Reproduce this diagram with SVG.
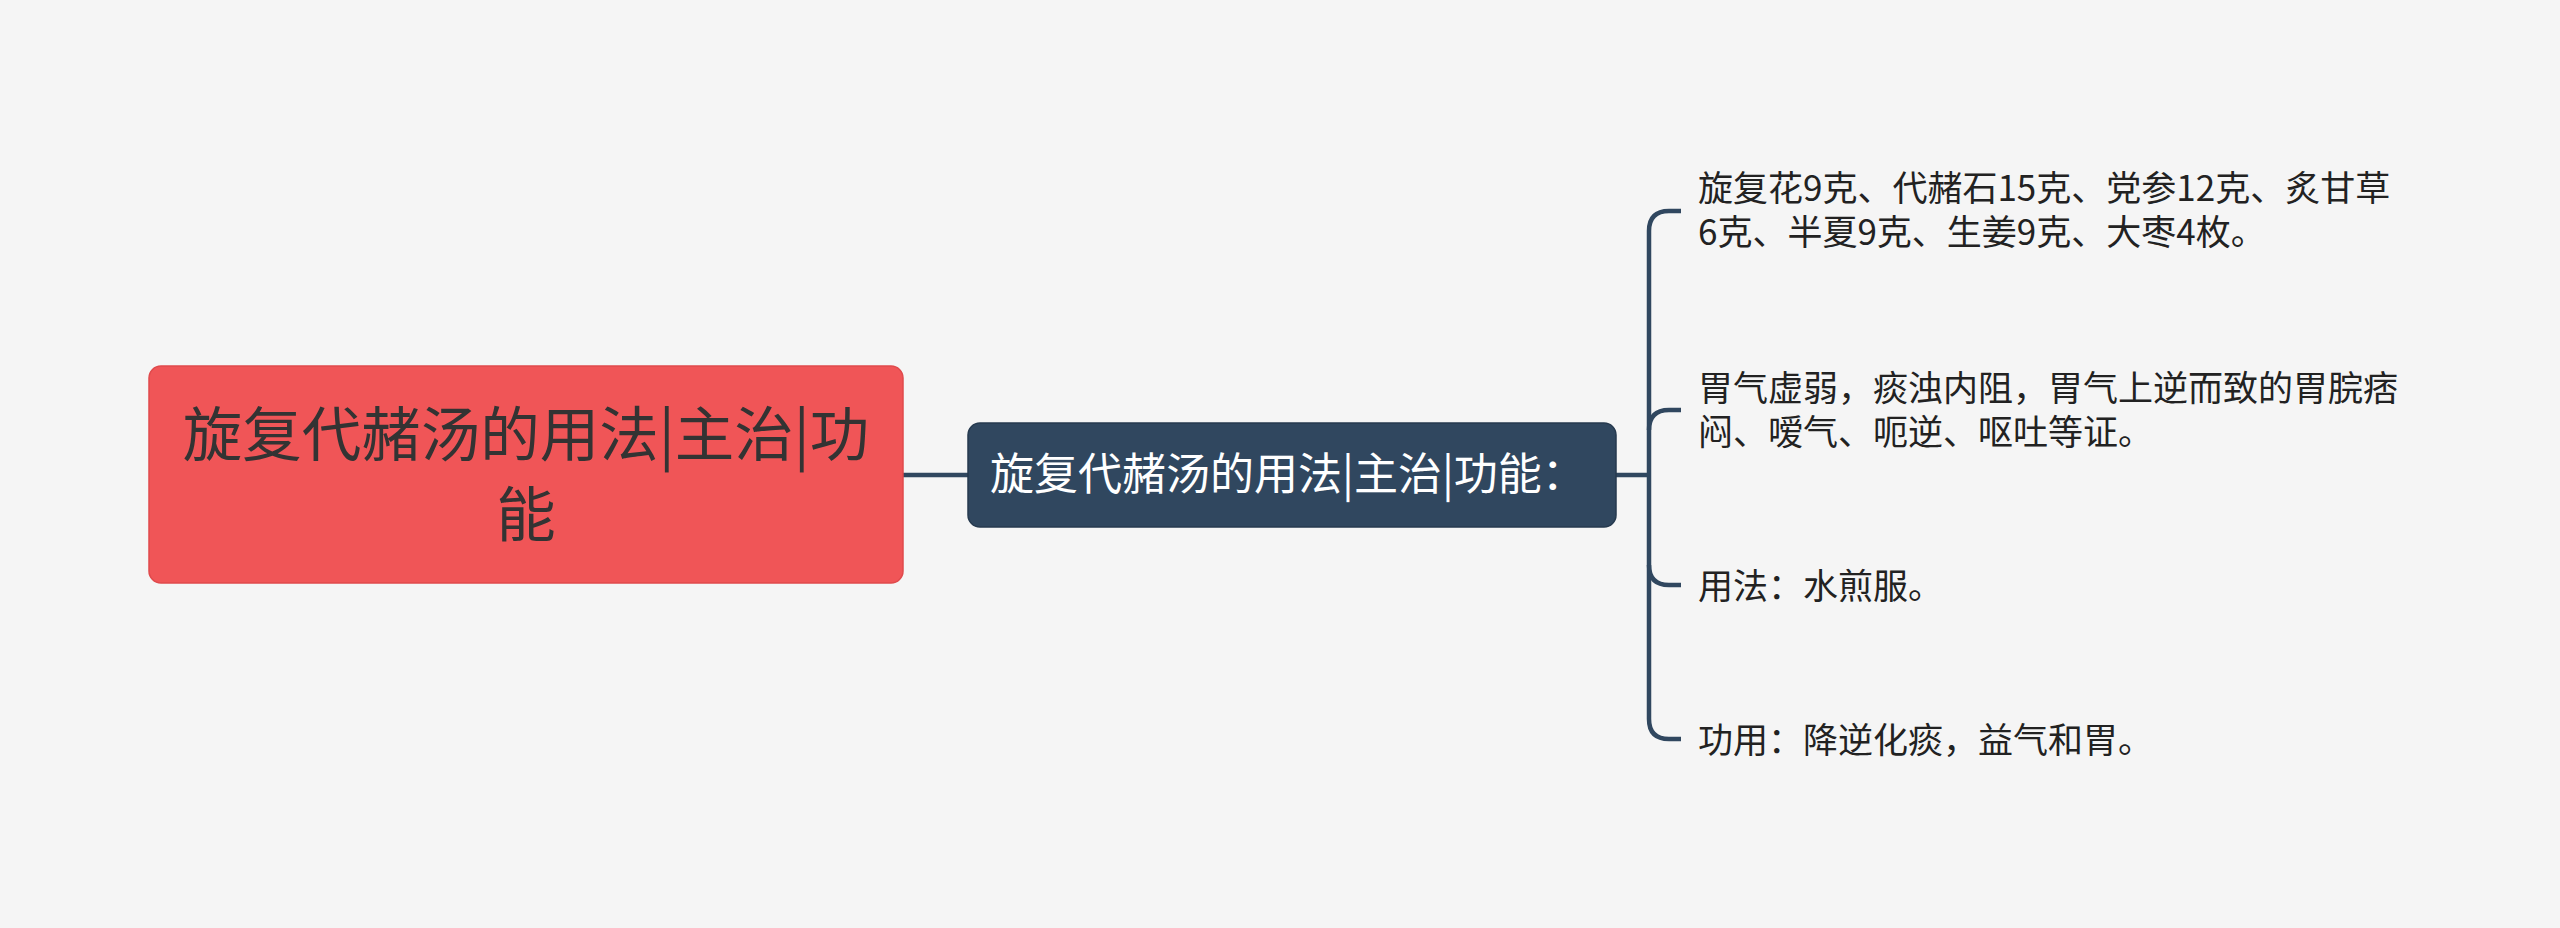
<svg xmlns="http://www.w3.org/2000/svg" width="2560" height="928" viewBox="0 0 2560 928">
<style>
.bg{fill:#f5f5f5}
.root rect{fill:#f05557;stroke:#e04a4c;stroke-width:1.5}
.root text{font-family:"Noto Sans CJK SC","Noto Sans",sans-serif;font-size:59.5px;fill:#333333;text-anchor:middle}
.mid rect{fill:#30475f;stroke:#263a4f;stroke-width:1.5}
.mid text{font-family:"Noto Sans CJK SC","Noto Sans",sans-serif;font-size:44px;fill:#ffffff}
.leaf text{font-family:"Noto Sans CJK SC","Noto Sans",sans-serif;font-size:35px;fill:#222222}
.conn path{fill:none;stroke:#30475f;stroke-width:4.5;stroke-linecap:butt}
</style>
<rect class="bg" x="0" y="0" width="2560" height="928"/>
<g id="connectors" class="conn">
<path d="M903,475 H968"/>
<path d="M1616,475 H1649"/>
<path d="M1681,211 H1669 Q1649,211 1649,231 V719 Q1649,739 1669,739 H1681"/>
<path d="M1681,410 H1669 Q1649,410 1649,430"/>
<path d="M1649,565 Q1649,585 1669,585 H1681"/>
</g>
<g id="root" class="root">
<rect x="149" y="366" width="754" height="217" rx="12"/>
<text x="526" y="456"><tspan x="526" y="456">旋复代赭汤的用法|主治|功</tspan><tspan x="526" y="536">能</tspan></text>
</g>
<g id="mid" class="mid">
<rect x="968" y="423" width="648" height="104" rx="12"/>
<text x="990" y="490">旋复代赭汤的用法|主治|功能：</text>
</g>
<g id="leaf1" class="leaf">
<text x="1698" y="201"><tspan x="1698" y="201">旋复花9克、代赭石15克、党参12克、炙甘草</tspan><tspan x="1698" y="245">6克、半夏9克、生姜9克、大枣4枚。</tspan></text>
</g>
<g id="leaf2" class="leaf">
<text x="1698" y="401"><tspan x="1698" y="401">胃气虚弱，痰浊内阻，胃气上逆而致的胃脘痞</tspan><tspan x="1698" y="445">闷、嗳气、呃逆、呕吐等证。</tspan></text>
</g>
<g id="leaf3" class="leaf">
<text x="1698" y="599">用法：水煎服。</text>
</g>
<g id="leaf4" class="leaf">
<text x="1698" y="753">功用：降逆化痰，益气和胃。</text>
</g>
</svg>
